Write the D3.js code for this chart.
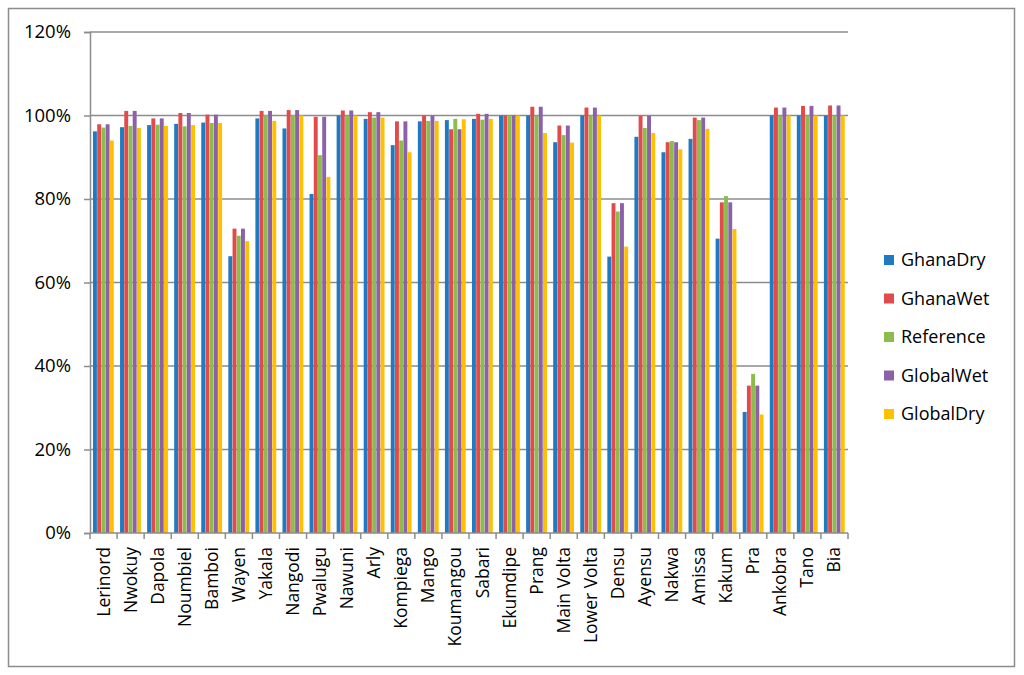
<!DOCTYPE html>
<html><head><meta charset="utf-8">
<script src="https://cdn.jsdelivr.net/npm/d3@7/dist/d3.min.js"></script>
<style>body{margin:0;background:#fff;}text{font-family:"Open Sans",sans-serif;fill:#000;}</style>
</head><body>
<svg id="c" width="1024" height="675"></svg>
<script>
const categories = ["Lerinord","Nwokuy","Dapola","Noumbiel","Bamboi","Wayen","Yakala","Nangodi","Pwalugu","Nawuni","Arly","Kompiega","Mango","Koumangou","Sabari","Ekumdipe","Prang","Main Volta","Lower Volta","Densu","Ayensu","Nakwa","Amissa","Kakum","Pra","Ankobra","Tano","Bia"];
const seriesNames = ["GhanaDry","GhanaWet","Reference","GlobalWet","GlobalDry"];
const seriesColors = ["#1f7ac2","#e04b4b","#8cbd4c","#8b62a9","#ffc000"];
const ghanaDry  = [96.2,97.2,97.7,98.0,98.3,66.3,99.3,96.9,81.2,100.0,99.2,92.9,98.6,98.9,99.2,100.0,100.0,93.6,100.0,66.2,94.9,91.2,94.4,70.5,29.0,100.0,100.0,100.0];
const ghanaWet  = [97.9,101.1,99.3,100.6,100.2,72.9,101.1,101.3,99.7,101.2,100.8,98.6,100.0,96.7,100.4,100.0,102.1,97.6,101.9,79.0,99.9,93.6,99.5,79.2,35.3,101.9,102.3,102.4];
const reference = [97.1,97.5,97.8,97.4,98.2,71.2,100.1,100.1,90.5,100.0,99.5,94.0,98.7,99.2,99.0,100.0,100.0,95.3,100.0,77.0,97.0,93.9,98.9,80.7,38.1,100.0,100.0,100.0];
const globalWet = [97.9,101.1,99.3,100.6,100.2,72.9,101.1,101.3,99.7,101.2,100.8,98.6,100.0,96.7,100.4,100.0,102.1,97.6,101.9,79.0,99.9,93.6,99.5,79.2,35.3,101.9,102.3,102.4];
const globalDry = [94.0,97.0,97.5,97.7,98.2,69.9,98.7,100.0,85.3,100.0,99.5,91.2,98.7,99.1,99.2,100.0,95.8,93.5,100.0,68.6,95.8,91.9,96.8,72.8,28.4,100.0,100.0,100.0];
const yTicks = [0,20,40,60,80,100,120];
const seriesValues = [ghanaDry, ghanaWet, reference, globalWet, globalDry];

const svg = d3.select("#c");
svg.append("rect").attr("x",8.5).attr("y",8.5).attr("width",1006).attr("height",658)
  .attr("fill","#fff").attr("stroke","#8c8c8c").attr("stroke-width",1.5);

const L=90, R=848, T=32, B=533;
const y = d3.scaleLinear().domain([0,120]).range([B,T]);
const x0 = d3.scaleBand().domain(categories).range([L,R]).paddingInner(0.22).paddingOuter(0.11);
const x1 = d3.scaleBand().domain(seriesNames).range([0,x0.bandwidth()]);

// gridlines
svg.append("g").selectAll("line").data(yTicks.filter(d=>d>0)).join("line")
  .attr("x1",L).attr("x2",R).attr("y1",d=>y(d)).attr("y2",d=>y(d))
  .attr("stroke","#8c8c8c").attr("stroke-width",1.5);

// bars
const data = [];
categories.forEach((c,i)=>seriesNames.forEach((s,j)=>data.push({c,s,v:seriesValues[j][i],color:seriesColors[j]})));
svg.append("g").selectAll("rect").data(data).join("rect")
  .attr("x",d=>x0(d.c)+x1(d.s)).attr("width",x1.bandwidth()-0.3)
  .attr("y",d=>y(d.v)).attr("height",d=>B-y(d.v))
  .attr("fill",d=>d.color);

// y axis
const yAxis = d3.axisLeft(y).tickValues(yTicks).tickFormat(d=>d+"%").tickSize(6).tickPadding(13);
const gy = svg.append("g").attr("transform",`translate(${L},0)`).call(yAxis);
gy.select(".domain").attr("stroke","#8c8c8c").attr("stroke-width",1.5);
gy.selectAll(".tick line").attr("stroke","#8c8c8c").attr("stroke-width",1.5);
gy.selectAll("text").style("font-size","18.5px").style("font-family","'Open Sans',sans-serif").attr("fill","#000");

// x axis
const gx = svg.append("g").attr("transform",`translate(0,${B})`);
gx.append("line").attr("x1",L).attr("x2",R).attr("stroke","#8c8c8c").attr("stroke-width",1.5);
gx.selectAll("line.t").data(d3.range(categories.length+1)).join("line").attr("class","t")
  .attr("x1",i=>L+i*(R-L)/categories.length).attr("x2",i=>L+i*(R-L)/categories.length)
  .attr("y1",0).attr("y2",6).attr("stroke","#8c8c8c").attr("stroke-width",1.5);
gx.selectAll("text").data(categories).join("text")
  .attr("transform",d=>`translate(${L+(categories.indexOf(d)+0.5)*(R-L)/categories.length+6},14) rotate(-90)`)
  .attr("text-anchor","end").style("font-size","17.5px").text(d=>d);

// legend
const lg = svg.append("g");
seriesNames.forEach((s,i)=>{
  const yy = 260 + i*38.5;
  lg.append("rect").attr("x",884).attr("y",yy-5).attr("width",10).attr("height",10).attr("fill",seriesColors[i]);
  lg.append("text").attr("x",901).attr("y",yy).attr("dy","0.35em").style("font-size","18px").text(s);
});
</script>
</body></html>
